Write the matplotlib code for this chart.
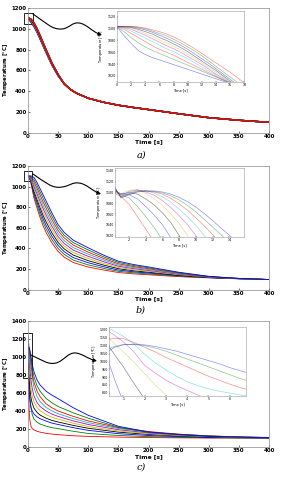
import matplotlib
matplotlib.use("Agg")
import matplotlib.pyplot as plt
from matplotlib.path import Path
from matplotlib.patches import FancyArrowPatch, Rectangle
import matplotlib.transforms as mtransforms

# ---------------- data ----------------
# colour order of the curves (fastest cooling first)
cols_a = ['b', 'g', 'r', 'c', 'm', 'y', 'k', 'b', 'g', 'r']
cols_bc = ['r', 'g', 'b', 'k', 'y', 'm', 'c', 'r', 'g', 'b']

# panel a, main plot
t_a = [0, 2, 5, 10, 15, 20, 25, 30, 40, 50, 60, 70, 80, 100, 125, 150, 175, 200, 250, 300, 350, 400]
a_head = [
    [1100, 1085, 1062, 1020, 965, 900, 835, 770, 645, 545],
    [1101, 1089, 1068, 1026, 971, 906, 840, 775, 649, 548],
    [1101, 1092, 1073, 1031, 976, 911, 845, 779, 652, 550],
    [1102, 1095, 1078, 1036, 981, 916, 850, 783, 655, 552],
    [1102, 1097, 1082, 1040, 985, 920, 854, 787, 658, 554],
    [1102, 1099, 1085, 1044, 989, 924, 858, 791, 661, 556],
    [1102, 1100, 1088, 1048, 993, 928, 862, 794, 664, 558],
    [1102, 1101, 1091, 1052, 997, 932, 865, 797, 666, 559],
    [1102, 1102, 1093, 1056, 1001, 936, 868, 799, 668, 561],
    [1102, 1102, 1095, 1060, 1005, 940, 870, 801, 670, 562],
]
a_tail = [470, 417, 380, 330, 292, 263, 241, 221, 181, 143, 118, 98]

# panel a, inset
t_ia = [0, 1, 2, 3, 4, 5, 6, 7, 8, 9, 10, 11, 12, 13, 14, 15, 16, 17, 18]
ins_a = [
    [1103, 1088, 1075, 1063, 1056, 1051, 1047, 1043, 1039, 1035, 1031, 1027, 1023, 1019, 1015, 1011, 1007, 1003, 999],
    [1103, 1095, 1085, 1076, 1069, 1063, 1058, 1053, 1048, 1043, 1038, 1033, 1028, 1023, 1018, 1013, 1008, 1003, 998],
    [1103, 1099, 1092, 1085, 1078, 1071, 1065, 1060, 1055, 1049, 1043, 1037, 1031, 1025, 1019, 1013, 1007, 1001, 995],
    [1103, 1101, 1096, 1090, 1084, 1078, 1072, 1066, 1061, 1055, 1049, 1042, 1035, 1028, 1021, 1014, 1007, 1000, 993],
    [1103, 1102, 1099, 1094, 1089, 1083, 1077, 1071, 1066, 1060, 1053, 1046, 1039, 1031, 1023, 1016, 1008, 1000, 992],
    [1104, 1103, 1101, 1097, 1092, 1087, 1081, 1076, 1070, 1064, 1057, 1050, 1042, 1034, 1026, 1018, 1009, 1001, 992],
    [1104, 1103, 1102, 1099, 1095, 1091, 1085, 1080, 1074, 1068, 1061, 1053, 1045, 1037, 1029, 1020, 1011, 1002, 993],
    [1104, 1104, 1103, 1101, 1098, 1094, 1089, 1084, 1078, 1072, 1065, 1057, 1049, 1041, 1032, 1023, 1014, 1005, 996],
    [1104, 1104, 1104, 1102, 1100, 1096, 1092, 1088, 1082, 1076, 1069, 1062, 1054, 1045, 1036, 1027, 1018, 1009, 1000],
    [1104, 1104, 1104, 1103, 1101, 1098, 1095, 1091, 1086, 1080, 1073, 1066, 1058, 1050, 1042, 1034, 1026, 1017, 1008],
]

# panel b, main plot
t_b = [0, 2, 5, 10, 15, 20, 25, 30, 40, 50, 60, 75, 100, 125, 150, 175, 200, 250, 300, 350, 400]
main_b = [
    [1100, 1090, 1030, 885, 790, 700, 620, 555, 450, 370, 315, 262, 218, 190, 165, 152, 143, 125, 113, 104, 97],
    [1100, 1092, 1038, 908, 818, 731, 653, 589, 482, 399, 342, 286, 239, 206, 177, 162, 151, 130, 115, 104, 97],
    [1100, 1093, 1046, 930, 846, 762, 687, 623, 514, 428, 368, 310, 260, 222, 189, 172, 160, 135, 116, 105, 97],
    [1100, 1095, 1055, 953, 873, 793, 720, 657, 547, 457, 395, 335, 280, 238, 202, 182, 168, 139, 118, 105, 97],
    [1100, 1096, 1063, 975, 901, 824, 753, 691, 579, 486, 422, 359, 301, 254, 214, 192, 177, 144, 120, 106, 97],
    [1100, 1098, 1071, 998, 929, 856, 787, 724, 611, 514, 448, 383, 322, 271, 226, 203, 185, 149, 121, 106, 97],
    [1100, 1099, 1079, 1020, 957, 887, 820, 758, 643, 543, 475, 407, 343, 287, 238, 213, 194, 154, 123, 107, 97],
    [1100, 1101, 1087, 1043, 984, 918, 853, 792, 676, 572, 502, 432, 363, 303, 250, 223, 202, 159, 125, 107, 97],
    [1100, 1102, 1096, 1065, 1012, 949, 887, 826, 708, 601, 528, 456, 384, 319, 263, 233, 211, 163, 126, 108, 97],
    [1100, 1104, 1104, 1088, 1040, 980, 920, 860, 740, 630, 555, 480, 405, 335, 275, 243, 219, 168, 128, 108, 97],
]

# panel b, inset
t_ib = [0.3, 1, 2, 3, 4, 5, 6, 7, 8, 9, 10, 11, 12, 13, 14, 15, 16]
ins_b = [
    [1098, 1093, 1078, 1055, 1032, 1008],
    [1100, 1096, 1090, 1074, 1055, 1035, 1012],
    [1102, 1098, 1096, 1088, 1074, 1058, 1040, 1016],
    [1103, 1097, 1100, 1097, 1088, 1077, 1062, 1044, 1020, 996],
    [1104, 1098, 1104, 1106, 1098, 1088, 1076, 1060, 1042, 1020, 997],
    [1105, 1095, 1102, 1105, 1101, 1095, 1085, 1072, 1057, 1040, 1020, 998],
    [1106, 1094, 1100, 1104, 1103, 1099, 1092, 1082, 1069, 1055, 1039, 1020, 1000],
    [1107, 1092, 1098, 1103, 1103, 1101, 1097, 1089, 1079, 1067, 1053, 1038, 1022, 1005],
    [1108, 1091, 1097, 1102, 1103, 1102, 1099, 1094, 1086, 1076, 1064, 1050, 1036, 1022, 1007],
    [1110, 1090, 1096, 1101, 1103, 1103, 1101, 1097, 1091, 1083, 1073, 1061, 1048, 1034, 1021, 1006],
]

# panel c, main plot
t_c = [0, 1, 2, 3, 5, 7, 10, 15, 20, 30, 40, 50, 75, 100, 150, 200, 250, 300, 350, 400]
main_c = [
    [1100, 600, 400, 300, 230, 205, 190, 175, 165, 152, 143, 137, 125, 118, 110, 105, 102, 100, 100, 100],
    [1100, 900, 700, 570, 430, 360, 310, 275, 255, 232, 215, 204, 175, 150, 128, 115, 108, 103, 101, 100],
    [1050, 740, 600, 520, 440, 400, 365, 335, 315, 288, 265, 250, 215, 185, 148, 128, 115, 107, 103, 101],
    [1150, 960, 760, 660, 545, 485, 430, 385, 355, 320, 295, 278, 240, 208, 165, 140, 123, 112, 105, 102],
    [1190, 1065, 920, 790, 640, 565, 500, 440, 405, 360, 330, 310, 265, 228, 178, 148, 128, 115, 107, 103],
    [1210, 1110, 975, 880, 745, 650, 565, 495, 450, 400, 365, 340, 290, 250, 192, 157, 134, 119, 109, 104],
    [1230, 1160, 1045, 945, 825, 770, 660, 560, 505, 440, 400, 370, 315, 270, 205, 165, 139, 122, 111, 105],
    [1130, 1145, 1090, 1025, 905, 815, 720, 620, 560, 480, 435, 400, 340, 290, 215, 172, 143, 124, 112, 106],
    [1090, 1108, 1100, 1065, 965, 865, 780, 680, 620, 540, 490, 450, 380, 320, 220, 162, 141, 123, 112, 105],
    [1070, 1105, 1105, 1080, 1005, 915, 835, 745, 690, 620, 575, 537, 437, 352, 230, 167, 138, 119, 110, 104],
]

# panel c, inset (only the curves that show in the zoom window)
t_ic = [0.3, 0.6, 1, 1.5, 2, 2.5, 3, 3.5, 4, 4.5, 5, 5.5, 6, 6.5, 7]
ins_c = {
    2: [1000, 880, 740],
    3: [1100, 1040, 965, 860, 760],
    4: [1150, 1110, 1060, 995, 920, 850, 785, 730],
    5: [1192, 1165, 1125, 1060, 975, 925, 880, 845, 815, 785, 760],
    6: [1213, 1190, 1160, 1110, 1045, 990, 945, 905, 870, 845, 825, 810, 798, 785, 775],
    7: [1140, 1148, 1145, 1120, 1090, 1060, 1025, 995, 965, 935, 905, 880, 855, 832, 815],
    8: [1080, 1095, 1108, 1108, 1100, 1085, 1065, 1040, 1015, 990, 965, 940, 915, 890, 870],
    9: [1065, 1090, 1105, 1110, 1105, 1095, 1080, 1065, 1045, 1025, 1005, 985, 960, 940, 920],
}

# ---------------- figure ----------------
W, H = 283, 480
fig = plt.figure(figsize=(W / 100, H / 100), dpi=100)

def fig_rect(x0, y0, x1, y1):
    # pixel box (top-left origin) -> figure fraction rect
    return [x0 / W, 1 - y1 / H, (x1 - x0) / W, (y1 - y0) / H]

pix = mtransforms.Affine2D().scale(1 / W, -1 / H).translate(0, 1) + fig.transFigure

def style_main(ax, ytop):
    ax.set_xlim(0, 400)
    ax.set_ylim(0, ytop)
    ax.set_xticks(range(0, 401, 50))
    ax.set_yticks(range(0, ytop + 1, 200))
    ax.tick_params(labelsize=4.0, length=1.5, width=0.4, pad=1, direction='in')
    for lb in ax.get_xticklabels() + ax.get_yticklabels():
        lb.set_fontweight('bold')
    for s in ax.spines.values():
        s.set_linewidth(0.5)
        s.set_color('#888888')
    ax.set_xlabel('Time [s]', fontsize=4.3, fontweight='bold', labelpad=0.5)
    ax.set_ylabel('Temperature [$^{o}$C]', fontsize=3.9, fontweight='bold')
    ax.yaxis.set_label_coords(-0.072, 0.5)

def style_inset(ax):
    ax.tick_params(labelsize=2.3, length=1, width=0.3, pad=0.8, direction='in')
    for s in ax.spines.values():
        s.set_linewidth(0.4)
        s.set_color('#999999')
    ax.set_xlabel('Time [s]', fontsize=2.6, labelpad=0.8)
    ax.set_ylabel('Temperature [$^{o}$C]', fontsize=2.6, labelpad=0.8)

def wave_arrow(pts):
    codes = [Path.MOVETO] + [Path.CURVE4] * (len(pts) - 1)
    arr = FancyArrowPatch(path=Path(pts, codes), arrowstyle='-|>', mutation_scale=5,
                          lw=0.8, color='black', transform=pix)
    fig.add_artist(arr)

# ---- a ----
axa = fig.add_axes(fig_rect(28, 8, 269, 132.5))
for i in range(len(a_head)):
    axa.plot(t_a, a_head[i] + a_tail, color=cols_a[i], lw=1.0)
style_main(axa, 1200)
axa.add_patch(Rectangle((-7, 1050), 15, 105, fill=False, lw=0.6, ec='black', clip_on=False))
wave_arrow([(33, 14), (45, 22), (52, 30), (62, 29), (70, 28), (72, 22), (79, 23),
            (87, 24), (92, 32), (102, 35)])
iax = fig.add_axes(fig_rect(117, 11, 244.3, 81.7))
for i, v in enumerate(ins_a):
    iax.plot(t_ia, v, color=cols_a[i], lw=0.5, alpha=0.45)
iax.set_xlim(0, 18)
iax.set_ylim(1010, 1130)
iax.set_xticks(range(0, 19, 2))
iax.set_yticks(range(1020, 1121, 20))
style_inset(iax)
fig.text(141 / W, 1 - 155 / H, 'a)', fontsize=7, style='italic', family='DejaVu Serif',
         ha='center', va='center')

# ---- b ----
axb = fig.add_axes(fig_rect(28, 166, 269, 289.5))
for i, v in enumerate(main_b):
    axb.plot(t_b, v, color=cols_bc[i], lw=0.6)
style_main(axb, 1200)
axb.add_patch(Rectangle((-7, 1055), 14, 92, fill=False, lw=0.6, ec='black', clip_on=False))
wave_arrow([(33, 174), (45, 182), (52, 189), (62, 187), (70, 186), (72, 182), (79, 183),
            (87, 184), (92, 191), (101, 194)])
iax = fig.add_axes(fig_rect(115, 168.3, 244.3, 236.7))
for i, v in enumerate(ins_b):
    iax.plot(t_ib[:len(v)], v, color=cols_bc[i], lw=0.5, alpha=0.45)
iax.set_xlim(0.3, 15.8)
iax.set_ylim(1018, 1145)
iax.set_xticks(range(2, 15, 2))
iax.set_yticks(range(1020, 1141, 20))
style_inset(iax)
fig.text(141 / W, 1 - 310 / H, 'b)', fontsize=7, style='italic', family='DejaVu Serif',
         ha='center', va='center')

# ---- c ----
axc = fig.add_axes(fig_rect(28, 321, 269, 447))
for i, v in enumerate(main_c):
    axc.plot(t_c, v, color=cols_bc[i], lw=0.6)
style_main(axc, 1400)
axc.add_patch(Rectangle((-8, 765), 14, 500, fill=False, lw=0.6, ec='black', clip_on=False))
wave_arrow([(31, 355), (42, 360), (48, 365), (56, 363), (64, 361), (68, 352), (76, 353),
            (83, 354), (88, 359), (97, 361)])
iax = fig.add_axes(fig_rect(109.3, 326.7, 245.7, 396))
for k, v in ins_c.items():
    iax.plot(t_ic[:len(v)], v, color=cols_bc[k], lw=0.5, alpha=0.45)
iax.set_xlim(0.34, 6.75)
iax.set_ylim(779, 1221)
iax.set_xticks(range(1, 7))
iax.set_yticks(range(800, 1201, 50))
style_inset(iax)
fig.text(141 / W, 1 - 467 / H, 'c)', fontsize=7, style='italic', family='DejaVu Serif',
         ha='center', va='center')

fig.savefig('out.png', dpi=100)
